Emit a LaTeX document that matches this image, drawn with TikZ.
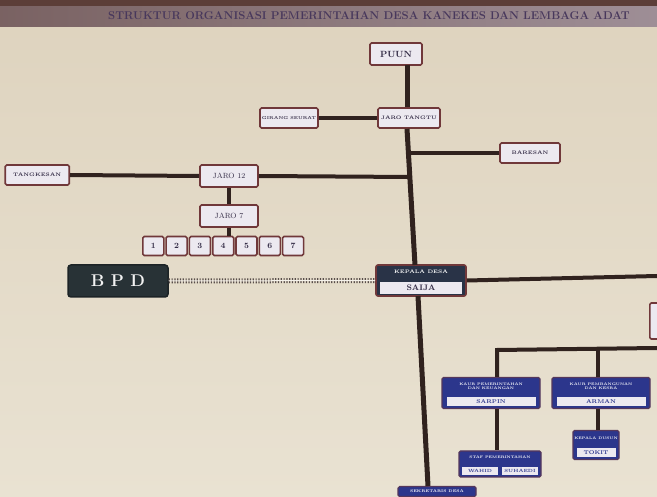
\documentclass[tikz,border=0pt]{standalone}
\definecolor{wall}{RGB}{222,211,190}
\definecolor{wallB}{RGB}{233,226,210}
\definecolor{band}{RGB}{158,142,150}
\definecolor{bandtop}{RGB}{92,62,56}
\definecolor{titletxt}{RGB}{72,56,92}
\definecolor{linec}{RGB}{48,34,30}
\definecolor{bord}{RGB}{112,56,58}
\definecolor{boxf}{RGB}{236,233,240}
\definecolor{boxt}{RGB}{52,44,70}
\definecolor{navy}{RGB}{44,54,140}
\definecolor{bpdf}{RGB}{40,50,54}
\tikzset{
  conn/.style={draw=linec,line width=4pt},
  trunkline/.style={draw=linec,line width=5pt},
  lbox/.style={draw=bord,line width=1.6pt,fill=boxf,rounded corners=1.5pt,inner sep=0pt,
     text=boxt,font=\fontsize{5}{6}\selectfont\bfseries,align=center},
  numbox/.style={lbox,minimum width=21pt,minimum height=19pt,font=\fontsize{8}{9}\selectfont\bfseries},
  bluebox/.style={draw=bord!60!navy,line width=1.2pt,fill=navy,rounded corners=1.5pt,inner sep=0pt,
     text=white,font=\fontsize{3.6}{4.2}\selectfont\bfseries,align=center},
  bluetxt/.style={text=white,font=\fontsize{3.6}{4.2}\selectfont\bfseries,align=center,inner sep=0pt},
  bluename/.style={draw=navy,line width=0.8pt,fill=boxf,inner sep=0pt,text=navy,
     font=\fontsize{5.5}{6}\selectfont\bfseries,align=center}
}
\begin{document}
\begin{tikzpicture}[x=1pt,y=-1pt]
\useasboundingbox (0,0) rectangle (657,497);
% background wall
\shade[top color=wall,bottom color=wallB] (0,0) rectangle (657,497);
% title band
\shade[left color=bandtop!55!band,right color=band] (0,6) rectangle (657,27);
\fill[bandtop] (0,0) rectangle (657,6);
\node[anchor=west,inner sep=0pt,text=titletxt,font=\fontsize{11.3}{13}\selectfont\bfseries] (title) at (108,16)
  {STRUKTUR ORGANISASI PEMERINTAHAN DESA KANEKES DAN LEMBAGA ADAT};
% nodes
\node[lbox,minimum width=52pt,minimum height=22pt,font=\fontsize{9}{10}\selectfont\bfseries] (puun) at (396,54) {PUUN};
\node[lbox,minimum width=62pt,minimum height=20pt] (jt) at (409,118) {JARO TANGTU};
\node[lbox,minimum width=58pt,minimum height=20pt,font=\fontsize{4.2}{5}\selectfont\bfseries] (gs) at (289,118) {GIRANG SEURAT};
\node[lbox,minimum width=60pt,minimum height=20pt] (bar) at (530,153) {BARESAN};
\node[lbox,minimum width=64pt,minimum height=20pt,anchor=east] (tk) at (70,175) {TANGKESAN};
\node[lbox,minimum width=58pt,minimum height=22pt,font=\fontsize{7.5}{8}\selectfont] (j12) at (229,176) {JARO 12};
\node[lbox,minimum width=58pt,minimum height=22pt,font=\fontsize{7.5}{8}\selectfont] (j7) at (229,216) {JARO 7};
\foreach \i in {1,...,7}{
  \node[numbox] (n\i) at ({130+23.3*\i},246) {\i};
}
\node[draw=bpdf!70!black,line width=1.5pt,fill=bpdf,rounded corners=3pt,minimum width=100pt,minimum height=32pt,
  text=white!90!gray,font=\fontsize{17}{18}\selectfont\bfseries] (bpd) at (118,281) {B P D};
% Kepala Desa composite
\node[draw=bord,line width=1.6pt,fill=bpdf!80!navy,rounded corners=2pt,minimum width=90pt,minimum height=31pt,inner sep=0pt] (kades) at (421,280.5) {};
\node[text=white,font=\fontsize{5}{6}\selectfont\bfseries,inner sep=0pt] (kdlabel) at (421,272) {KEPALA DESA};
\node[fill=boxf,minimum width=82pt,minimum height=12pt,inner sep=0pt,text=boxt,font=\fontsize{8}{9}\selectfont\bfseries] (saija) at (421,288) {SAIJA};
% right-side partial box
\node[lbox,minimum width=16pt,minimum height=36pt,anchor=west] (rbox) at (649,321) {};
% blue boxes
\node[bluebox,minimum width=98pt,minimum height=31pt] (sarpinbox) at (491,393) {};
\node[bluetxt] (sarpintop) at (491,386) {KAUR PEMERINTAHAN\\DAN KEUANGAN};
\node[bluename,minimum width=90pt,minimum height=10pt] (sarpin) at (491,401.5) {SARPIN};
\node[bluebox,minimum width=98pt,minimum height=31pt] (armanbox) at (601,393) {};
\node[bluetxt] (armantop) at (601,386) {KAUR PEMBANGUNAN\\DAN KESRA};
\node[bluename,minimum width=90pt,minimum height=10pt] (arman) at (601,401.5) {ARMAN};
\node[bluebox,minimum width=46pt,minimum height=29pt] (tokitbox) at (596,445) {};
\node[bluetxt] (tokittop) at (596,438) {KEPALA DUSUN};
\node[bluename,minimum width=40pt,minimum height=10pt] (tokit) at (596,452.5) {TOKIT};
\node[bluebox,minimum width=82pt,minimum height=26pt] (staffbox) at (500,464) {};
\node[bluetxt] (stafftop) at (500,457) {STAF PEMERINTAHAN};
\node[bluename,minimum width=37pt,minimum height=9pt,font=\fontsize{4.5}{5}\selectfont\bfseries] (st1) at (480,470.5) {WAHID};
\node[bluename,minimum width=37pt,minimum height=9pt,font=\fontsize{4.5}{5}\selectfont\bfseries] (st2) at (520,470.5) {SUHAEDI};
\node[bluebox,minimum width=78pt,minimum height=10pt,anchor=north,font=\fontsize{3.8}{4}\selectfont\bfseries] (bottombox) at (437,486) {SEKRETARIS DESA};
% coordinates
\coordinate (pS) at (407,65);
\coordinate (kN) at (415,265);
\coordinate (jBar) at (410.5,153);
\coordinate (jJ12) at (411.5,177);
\coordinate (kS) at (418,296);
\coordinate (bN) at (428,486);
\coordinate (rEnd) at (657,276);
\coordinate (bEnd) at (657,348);
\coordinate (jS) at (497,350);
\coordinate (jA) at (598,349);
% connectors
\path[trunkline] (pS) -- (pS |- jt.north);
\path[conn] (gs.east) -- (jt.west);
\path[trunkline] (pS |- jt.south) -- (kN);
\path[conn] (jBar) -- (bar.west);
\path[conn] (tk.east) -- (j12.west);
\path[conn] (j12.east) -- (jJ12);
\path[conn] (j12.south) -- (j7.north);
\path[conn] (j7.south) -- (j7.south |- n4.north);
\path[draw=linec!80,line width=5pt,dash pattern=on 1.2pt off 1.6pt] (bpd.east) -- (kades.west);
\path[draw=white!70!wall,line width=1pt] (bpd.east) -- (kades.west);
\path[conn] (kades.east) -- (rEnd);
\path[trunkline] (kS) -- (bN);
\path[conn] (bEnd) -- (jS) -- (sarpinbox.north -| jS);
\path[conn] (jA) -- (armanbox.north -| jA);
\path[conn] (sarpinbox.south -| jS) -- (staffbox.north -| jS);
\path[conn] (armanbox.south -| jA) -- (tokitbox.north -| jA);
\end{tikzpicture}
\end{document}
